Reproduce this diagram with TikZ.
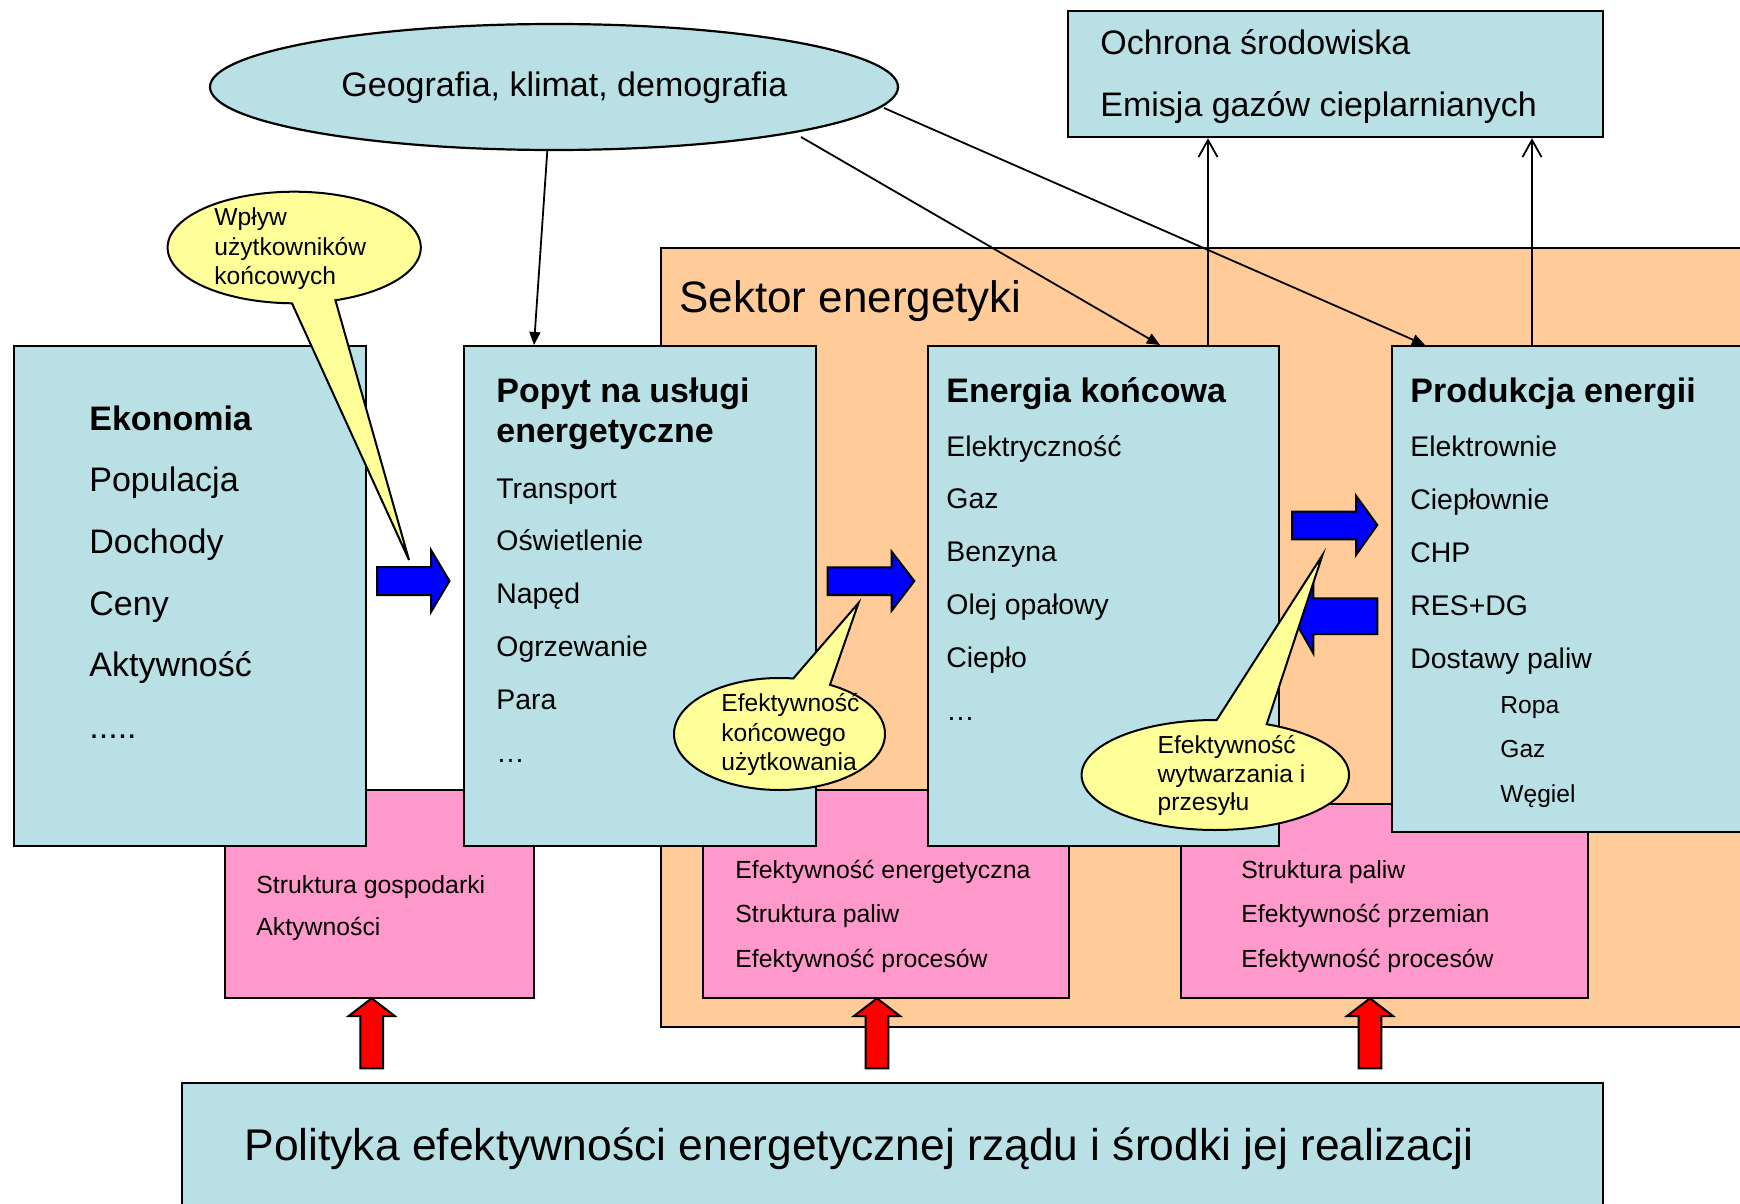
\documentclass[tikz,border=0pt]{standalone}
\usepackage{fontspec}
\setmainfont{Liberation Sans}
\usetikzlibrary{shapes.geometric,arrows.meta,calc}
\definecolor{lblue}{RGB}{185,224,228}
\definecolor{sorange}{RGB}{255,204,153}
\definecolor{spink}{RGB}{255,153,204}
\definecolor{syellow}{RGB}{255,255,153}
\begin{document}
\begin{tikzpicture}[x=0.5pt,y=-0.5pt,
  boxb/.style={draw=black,line width=1.1pt,fill=lblue,inner sep=0pt,anchor=north west},
  boxo/.style={draw=black,line width=1.1pt,fill=sorange,inner sep=0pt,anchor=north west},
  boxp/.style={draw=black,line width=1.1pt,fill=spink,inner sep=0pt,anchor=north west},
  txt/.style={anchor=base west,inner sep=0pt},
  tb17/.style={txt,font=\bfseries\fontsize{17}{20}\selectfont},
  t17/.style={txt,font=\fontsize{17}{20}\selectfont},
  t22/.style={txt,font=\fontsize{22}{26}\selectfont},
  t22w/.style={txt,font=\fontsize{22.2}{26}\selectfont},
  t14/.style={txt,font=\fontsize{14.2}{17}\selectfont},
  t12/.style={txt,font=\fontsize{12.3}{15}\selectfont},
  tp/.style={txt,font=\fontsize{12.4}{15}\selectfont},
  conn/.style={line width=0.9pt,-{Triangle[length=6.5pt,width=5.5pt]}},
  openarr/.style={line width=0.9pt,-{Straight Barb[length=8.5pt,width=9.5pt,line width=0.9pt]}},
  fatblue/.style={draw=black,line width=1pt,fill=blue},
  fatred/.style={draw=black,line width=1pt,fill=red},
  callout/.style={draw=black,line width=1pt,fill=syellow}
]
\path[use as bounding box] (0,0) rectangle (1740,1204);
\fill[white] (0,0) rectangle (1740,1204);
\begin{scope}
\clip (0,0) rectangle (1740,1204);

% energy sector background
\node[boxo,minimum width=555pt,minimum height=389.5pt] (sektor) at (660,247) {};
\node[t22] (sektort) at (679,312) {Sektor energetyki};

% pink boxes
\node[boxp,minimum width=154.5pt,minimum height=104pt] (pink1) at (224,789) {};
\node[boxp,minimum width=183pt,minimum height=104pt] (pink2) at (702,789) {};
\node[boxp,minimum width=203.5pt,minimum height=97pt] (pink3) at (1180,803) {};
\node[tp] (p1a) at (256,893) {Struktura gospodarki};
\node[tp] (p1b) at (256,935) {Aktywności};
\node[tp] (p2a) at (735,878) {Efektywność energetyczna};
\node[tp] (p2b) at (735,922) {Struktura paliw};
\node[tp] (p2c) at (735,967) {Efektywność procesów};
\node[tp] (p3a) at (1241,878) {Struktura paliw};
\node[tp] (p3b) at (1241,922) {Efektywność przemian};
\node[tp] (p3c) at (1241,967) {Efektywność procesów};

% main boxes
\node[boxb,minimum width=176pt,minimum height=250pt] (eko) at (13,345) {};
\node[boxb,minimum width=176pt,minimum height=250pt] (popyt) at (463,345) {};
\node[boxb,minimum width=175.5pt,minimum height=250pt] (energia) at (927,345) {};
\node[boxb,minimum width=190pt,minimum height=243pt] (prod) at (1391,345) {};

% Ekonomia
\node[tb17] (ekot) at (89,430) {Ekonomia};
\node[t17] (eko1) at (89,491.8) {Populacja};
\node[t17] (eko2) at (89,553.4) {Dochody};
\node[t17] (eko3) at (89,615) {Ceny};
\node[t17] (eko4) at (89,676.5) {Aktywność};
\node[t17] (eko5) at (89,738) {.....};

% Popyt
\node[tb17] (popt1) at (496,402) {Popyt na usługi};
\node[tb17] (popt2) at (496,442) {energetyczne};
\foreach \s [count=\i] in {Transport,Oświetlenie,Napęd,Ogrzewanie,Para}
  \node[t14] (pop\i) at (496,{498+52.95*(\i-1)}) {\s};
\node[t14] (pop6) at (496,762) {…};

% Energia koncowa
\node[tb17] (ent) at (946,402) {Energia końcowa};
\foreach \s [count=\i] in {Elektryczność,Gaz,Benzyna,Olej opałowy,Ciepło}
  \node[t14] (en\i) at (946,{456+52.9*(\i-1)}) {\s};
\node[t14] (en6) at (946,720) {…};

% Produkcja energii
\node[tb17] (prt) at (1410,402) {Produkcja energii};
\foreach \s [count=\i] in {Elektrownie,Ciepłownie,CHP,RES+DG,Dostawy paliw}
  \node[t14] (pr\i) at (1410,{456+53.1*(\i-1)}) {\s};
\node[t12] (prs1) at (1500,713) {Ropa};
\node[t12] (prs2) at (1500,757.5) {Gaz};
\node[t12] (prs3) at (1500,802.5) {Węgiel};

% Ochrona
\node[boxb,minimum width=267.5pt,minimum height=63pt] (ochr) at (1067,10) {};
\node[t17] (ochr1) at (1100,55) {Ochrona środowiska};
\node[t17] (ochr2) at (1100,117) {Emisja gazów cieplarnianych};

% Geografia ellipse
\node[ellipse,draw=black,line width=1.1pt,fill=lblue,inner sep=0pt,minimum width=344pt,minimum height=63pt] (geo) at (554,87) {};
\node[t17] (geot) at (341,97) {Geografia, klimat, demografia};

% connectors
\draw[conn] (geo.264) -- ($(popyt.north west)+(71,0)$);
\draw[conn] ($(geo.center)+(247,50)$) -- ($(energia.north west)+(233,0)$);
\draw[conn] ($(geo.center)+(330,21)$) -- ($(prod.north west)+(34,0)$);
\draw[openarr] ($(energia.north west)+(281,0)$) -- ($(ochr.south west)+(141,0)$);
\draw[openarr] ($(prod.north west)+(141,0)$) -- ($(ochr.south west)+(465,0)$);

% blue fat arrows
\draw[fatblue] (377,567) -- (431,567) -- (431,550) -- (449.5,581) -- (431,612) -- (431,595) -- (377,595) -- cycle;
\draw[fatblue] (827.7,567.3) -- (891.7,567.3) -- (891.7,551.7) -- (914.3,581) -- (891.7,610.7) -- (891.7,595) -- (827.7,595) -- cycle;
\draw[fatblue] (1292,511.7) -- (1356,511.7) -- (1356,495.7) -- (1377.3,525) -- (1356,555) -- (1356,539.3) -- (1292,539.3) -- cycle;
\draw[fatblue] (1377.3,598.3) -- (1313.3,598.3) -- (1313.3,579) -- (1292,616) -- (1313.3,653.3) -- (1313.3,634) -- (1377.3,634) -- cycle;

% red fat arrows
\foreach \cx [count=\i] in {371.7,877,1370}
  \draw[fatred] ({\cx-11.3},1068.3) -- ({\cx-11.3},1016) -- ({\cx-23},1016) -- (\cx,998.3) -- ({\cx+23},1016) -- ({\cx+11.3},1016) -- ({\cx+11.3},1068.3) -- cycle;

% Polityka
\node[boxb,minimum width=710.5pt,minimum height=75pt] (pol) at (181,1082) {};
\node[t22w] (polt) at (244,1160) {Polityka efektywności energetycznej rządu i środki jej realizacji};

% callouts
\draw[callout] plot[domain=91:431,samples=160,variable=\t] ({294.2+126.6*cos(\t)},{247.5+55.8*sin(\t)}) -- (409,560) -- cycle;
\node[t12] (c1a) at (214,225) {Wpływ};
\node[t12] (c1b) at (214,255) {użytkowników};
\node[t12] (c1c) at (214,284.5) {końcowych};

\draw[callout] plot[domain=-61.4:277.5,samples=160,variable=\t] ({779.5+105.5*cos(\t)},{734+56*sin(\t)}) -- (858.5,603) -- cycle;
\node[t12] (c2a) at (721,711.7) {Efektywność};
\node[t12] (c2b) at (721,741.7) {końcowego};
\node[t12] (c2c) at (721,770) {użytkowania};

\draw[callout] plot[domain=-67.4:270.6,samples=160,variable=\t] ({1215.3+133.7*cos(\t)},{775+55*sin(\t)}) -- (1322.5,555) -- cycle;
\node[t12] (c3a) at (1157.3,753.3) {Efektywność};
\node[t12] (c3b) at (1157.3,782.7) {wytwarzania i};
\node[t12] (c3c) at (1157.3,810) {przesyłu};
\end{scope}
\end{tikzpicture}
\end{document}
